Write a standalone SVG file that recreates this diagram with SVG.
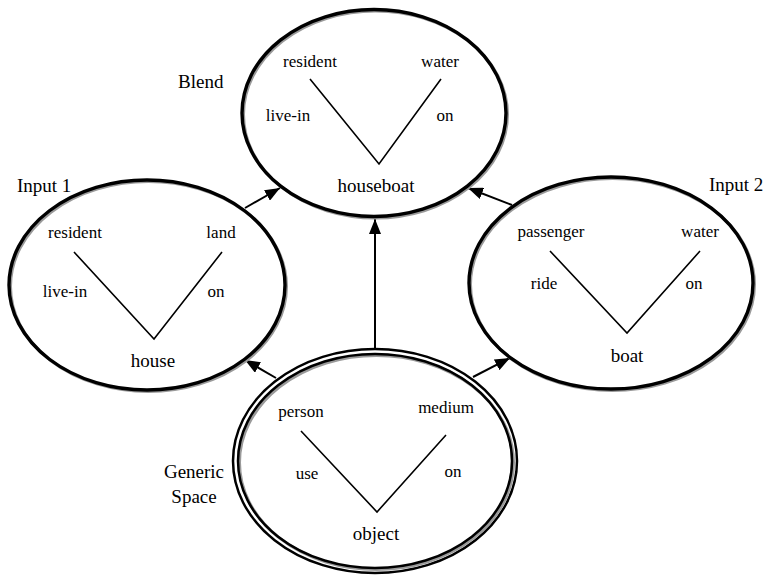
<svg xmlns="http://www.w3.org/2000/svg" width="763" height="577" viewBox="0 0 763 577">
<defs>
<style>
text{font-family:"Liberation Serif","Times New Roman",serif;fill:#000;text-anchor:middle}
.s{font-size:17px}
.b{font-size:19px}
.lab{font-size:19px;text-anchor:start}
.sh{fill:none;stroke:#9a9a9a;stroke-width:3}
.el{fill:none;stroke:#000;stroke-width:3.4}
.el2{fill:none;stroke:#000;stroke-width:2.5}
.v{fill:none;stroke:#000;stroke-width:1.6}
.ar{fill:none;stroke:#000;stroke-width:2}
</style>
<marker id="ah" markerUnits="userSpaceOnUse" markerWidth="16" markerHeight="12" refX="15" refY="6" orient="auto">
<path d="M0,0 L15,6 L0,12 z" fill="#000"/>
</marker>
</defs>
<rect width="763" height="577" fill="#fff"/>

<g id="connectors">
<line class="ar" x1="245" y1="208" x2="280" y2="188" marker-end="url(#ah)"/>
<line class="ar" x1="512" y1="205" x2="468" y2="188" marker-end="url(#ah)"/>
<line class="ar" x1="375" y1="349" x2="375" y2="219" marker-end="url(#ah)"/>
<line class="ar" x1="276" y1="378" x2="245" y2="360" marker-end="url(#ah)"/>
<line class="ar" x1="473" y1="377" x2="510" y2="358" marker-end="url(#ah)"/>
</g>

<g id="blend">
<ellipse class="sh" cx="375.5" cy="114.5" rx="132" ry="103.5"/>
<ellipse class="el" cx="374" cy="113" rx="132" ry="103.5"/>
<text class="lab" x="178" y="88">Blend</text>
<text class="s" x="310" y="67">resident</text>
<text class="s" x="440" y="67">water</text>
<text class="s" x="288" y="121">live-in</text>
<text class="s" x="445" y="121">on</text>
<polyline class="v" points="310,79 379,164 441,79"/>
<text class="b" x="376" y="192">houseboat</text>
</g>

<g id="input1">
<ellipse class="sh" cx="148.5" cy="286.5" rx="138" ry="105"/>
<ellipse class="el" cx="147" cy="285" rx="138" ry="105"/>
<text class="lab" x="17" y="192">Input 1</text>
<text class="s" x="75" y="238">resident</text>
<text class="s" x="221" y="238">land</text>
<text class="s" x="65" y="297">live-in</text>
<text class="s" x="216" y="297">on</text>
<polyline class="v" points="74,252 154,339 222,252"/>
<text class="b" x="153" y="367">house</text>
</g>

<g id="input2">
<ellipse class="sh" cx="612.5" cy="284.5" rx="142" ry="106"/>
<ellipse class="el" cx="611" cy="283" rx="142" ry="106"/>
<text class="lab" x="709" y="191">Input 2</text>
<text class="s" x="551" y="237">passenger</text>
<text class="s" x="700" y="237">water</text>
<text class="s" x="544" y="289">ride</text>
<text class="s" x="694" y="289">on</text>
<polyline class="v" points="550,251 627,333 700,251"/>
<text class="b" x="627" y="362">boat</text>
</g>

<g id="generic">
<ellipse class="el2" cx="375" cy="461" rx="142" ry="112"/>
<ellipse class="sh" cx="376.5" cy="462.5" rx="137" ry="107"/>
<ellipse class="el2" cx="375" cy="461" rx="137" ry="107"/>
<text class="b" x="194" y="478">Generic</text>
<text class="b" x="194" y="503">Space</text>
<text class="s" x="301" y="417">person</text>
<text class="s" x="446" y="413">medium</text>
<text class="s" x="307" y="479">use</text>
<text class="s" x="453" y="477">on</text>
<polyline class="v" points="301,431 377,512 446,435"/>
<text class="b" x="376" y="540">object</text>
</g>
</svg>
